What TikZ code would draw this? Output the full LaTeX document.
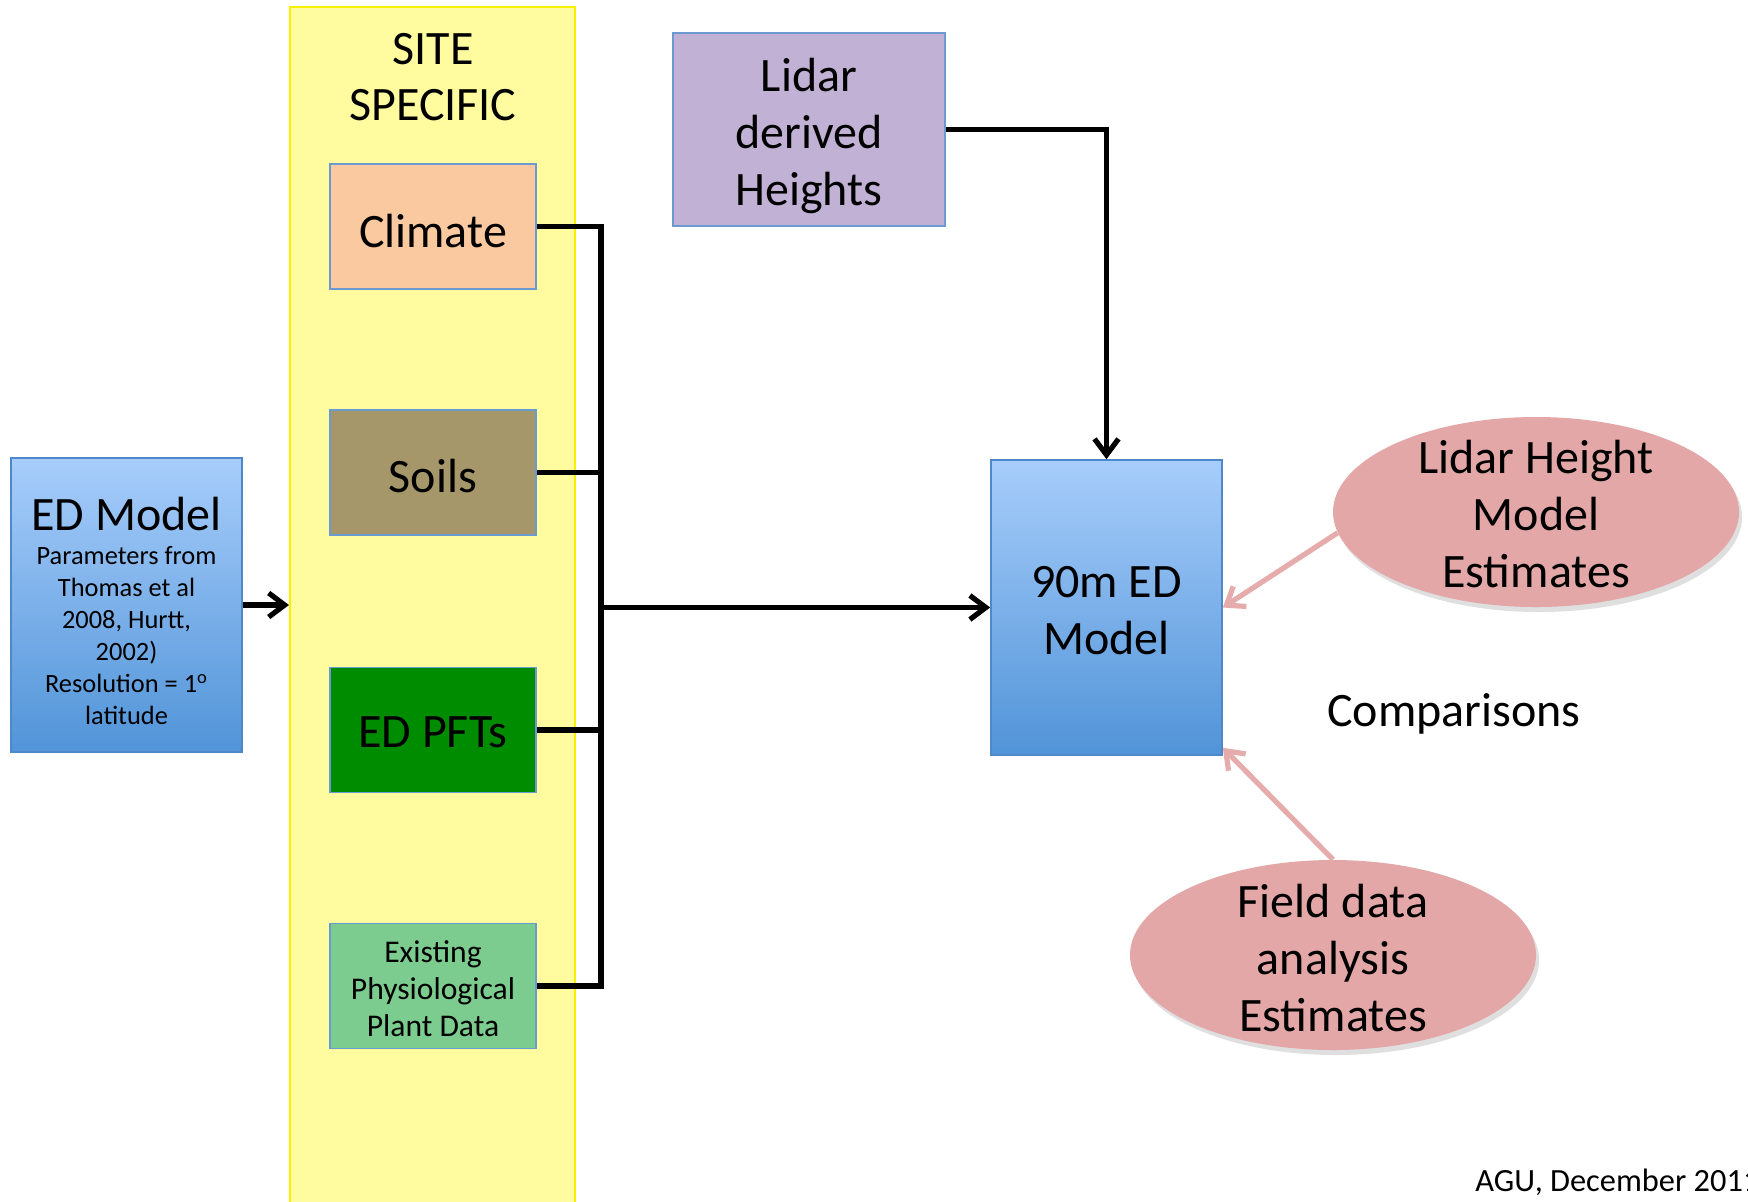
\documentclass[tikz,border=0pt]{standalone}
\usepackage{fontspec}
\setmainfont{Carlito}
\usetikzlibrary{arrows.meta,shadows,shapes.geometric}
\definecolor{bandfill}{HTML}{FFFB9E}
\definecolor{banddraw}{HTML}{F6F000}
\definecolor{boxedge}{HTML}{6A9AD0}
\definecolor{climatec}{HTML}{FAC9A0}
\definecolor{soilsc}{HTML}{A6976A}
\definecolor{pftc}{HTML}{008C00}
\definecolor{existc}{HTML}{7DCC8F}
\definecolor{lidarc}{HTML}{C1B1D4}
\definecolor{bluetop}{HTML}{A7CDFB}
\definecolor{bluebot}{HTML}{5194D8}
\definecolor{blueedge}{HTML}{4F88C8}
\definecolor{pinkc}{HTML}{E2A7A6}
\definecolor{pinkarrow}{HTML}{E6ABAB}
\tikzset{
  bigfont/.style={font=\fontsize{24}{28.5}\selectfont},
  sitebox/.style={draw=boxedge, line width=0.8pt, minimum width=103pt, minimum height=62.5pt, inner sep=0pt},
  bluebox/.style={draw=blueedge, line width=0.8pt, top color=bluetop, bottom color=bluebot, minimum width=115.5pt, minimum height=147pt, inner sep=0pt},
  estell/.style={ellipse, fill=pinkc, minimum width=203pt, minimum height=95pt, inner sep=0pt, drop shadow={opacity=0.25, shadow xshift=1.5pt, shadow yshift=-2.5pt}},
  conn/.style={line width=2.6pt, black, line join=miter},
  connarrow/.style={conn, -{Straight Barb[length=8pt, width=12pt, line width=2.6pt]}},
  pinkarr/.style={line width=2.6pt, pinkarrow, -{Straight Barb[length=8pt, width=12pt, line width=2.6pt]}},
  plain/.style={align=center, bigfont, inner sep=0pt}
}
\begin{document}
\begin{tikzpicture}[x=0.5pt,y=-0.5pt]
\useasboundingbox (0,0) rectangle (1748,1201);
\fill[white] (0,0) rectangle (1748,1201);
% site specific band
\node[draw=banddraw, fill=bandfill, line width=1pt, minimum width=142.5pt, minimum height=600pt, inner sep=0pt] (band) at (432.5,607) {};
\node[plain, font=\fontsize{24}{28}\selectfont] (site) at (433,77) {SITE\\SPECIFIC};
% site boxes
\node[sitebox, fill=climatec] (climate) at (433,226.5) {};
\node[plain, yshift=-2.1pt] (climate-t) at (climate) {Climate};
\node[sitebox, fill=soilsc] (soils) at (433,472.5) {};
\node[plain, yshift=-1.7pt] (soils-t) at (soils) {Soils};
\node[sitebox, fill=pftc] (pfts) at (433,730) {};
\node[plain, yshift=-1.3pt] (pfts-t) at (pfts) {ED PFTs};
\node[sitebox, fill=existc] (exist) at (433,986) {};
\node[plain, yshift=-1.4pt, font=\fontsize{15.8}{18.5}\selectfont] (exist-t) at (exist) {Existing\\Physiological\\Plant Data};
% ED model
\node[bluebox] (edm) at (126.5,605) {};
\node[plain, yshift=-2.8pt, font=\fontsize{13.2}{16}\selectfont] (edm-t) at (edm) {{\fontsize{24}{24}\selectfont ED Model}\\[1pt]Parameters from\\Thomas et al\\2008, Hurtt,\\2002)\\Resolution = 1\textsuperscript{o}\\latitude};
% 90m ED model
\node[bluebox, minimum height=147.5pt] (ed90) at (1106.5,607.5) {};
\node[plain, yshift=-1.7pt] (ed90-t) at (ed90) {90m ED\\Model};
% lidar box
\node[draw=boxedge, line width=0.8pt, fill=lidarc, minimum width=136pt, minimum height=96.5pt, inner sep=0pt] (lidar) at (809,129.5) {};
\node[plain, yshift=-3pt] (lidar-t) at (lidar) {Lidar\\derived\\Heights};
% ellipses
\node[estell] (e1) at (1536,512) {};
\node[plain, yshift=-1pt] (e1-t) at (e1.center) {Lidar Height\\Model\\Estimates};
\node[estell] (e2) at (1333,955) {};
\node[plain, yshift=-1.4pt] (e2-t) at (e2.center) {Field data\\analysis\\Estimates};
\node[plain, anchor=center] (cmp) at (1454,714) {Comparisons};
\node[font=\fontsize{16.2}{18}\selectfont, anchor=base west, inner sep=0pt] (agu) at (1475,1191) {AGU, December 2011};
% connectors
\coordinate (busx) at (601,0);
\draw[connarrow] (edm.east) -- (edm.east -| band.west);
\draw[conn] (climate.east) -- (climate.east -| busx) -- (exist.east -| busx) -- (exist.east);
\draw[conn] (soils.east) -- (soils.east -| busx);
\draw[conn] (pfts.east) -- (pfts.east -| busx);
\draw[connarrow] (ed90.west -| busx) -- (ed90.west);
\draw[connarrow] (lidar.east) -| (ed90.north);
\draw[pinkarr] (e1.186) -- (ed90.east);
\draw[pinkarr] (e2.north) -- ([yshift=4pt]ed90.south east);
\end{tikzpicture}
\end{document}
